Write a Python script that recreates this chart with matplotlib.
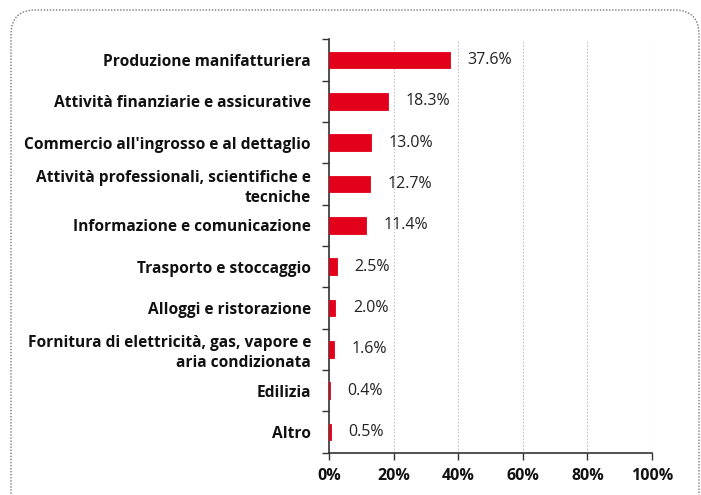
import matplotlib
matplotlib.use("Agg")
import matplotlib.pyplot as plt
from matplotlib.patches import FancyBboxPatch
from matplotlib.ticker import FixedLocator

categories = [
    "Produzione manifatturiera",
    "Attività finanziarie e assicurative",
    "Commercio all'ingrosso e al dettaglio",
    "Attività professionali, scientifiche e\ntecniche",
    "Informazione e comunicazione",
    "Trasporto e stoccaggio",
    "Alloggi e ristorazione",
    "Fornitura di elettricità, gas, vapore e\naria condizionata",
    "Edilizia",
    "Altro",
]
values = [37.6, 18.3, 13.0, 12.7, 11.4, 2.5, 2.0, 1.6, 0.4, 0.5]
xticks = [0, 20, 40, 60, 80, 100]
xticklabels = ["0%", "20%", "40%", "60%", "80%", "100%"]

plt.rcParams['font.family'] = ['Open Sans', 'DejaVu Sans']

W, H = 701, 495
fig = plt.figure(figsize=(W / 100, H / 100), dpi=100)
ax = fig.add_axes([329 / W, 1 - 452.5 / H, (652 - 329) / W, (452.5 - 39.5) / H])

n = len(categories)
ypos = list(range(n))
ax.barh(ypos, values, height=0.4, color="#E2001A", edgecolor="#E2001A",
        linewidth=0.6, zorder=3)
ax.set_ylim(n - 0.5, -0.5)
ax.set_xlim(0, 100)

for y, v in zip(ypos, values):
    ax.annotate(f"{v:.1f}%", (v, y), xytext=(12.5, 0), textcoords="offset points",
                ha="left", va="center", fontsize=11.5, color="#222222")

ax.set_yticks(ypos)
ax.set_yticklabels(categories, fontsize=11.2, fontweight="bold", color="#111111",
                   linespacing=1.35)
ax.tick_params(axis="y", length=0, pad=13)
ax.yaxis.set_minor_locator(FixedLocator([i + 0.5 for i in range(-1, n)]))
ax.tick_params(axis="y", which="minor", length=5, color="#333333", width=1)

ax.set_xticks(xticks)
ax.set_xticklabels(xticklabels, fontsize=11.5, fontweight="bold", color="#111111")
ax.tick_params(axis="x", length=5, color="#333333", width=1, pad=6)

ax.grid(axis="x", color="#C4C4C4", linestyle=(0, (1.5, 1.5)), linewidth=0.8, zorder=0)
for s in ["top", "right"]:
    ax.spines[s].set_visible(False)
for s in ["left", "bottom"]:
    ax.spines[s].set_color("#333333")
    ax.spines[s].set_linewidth(1.2)
ax.set_axisbelow(True)

# dotted rounded frame
frame = FancyBboxPatch((11 / W, -0.1), (699 - 11) / W, (1 - 10 / H) + 0.1,
                       boxstyle="round,pad=0,rounding_size=0.035",
                       transform=fig.transFigure, fill=False,
                       edgecolor="#777777", linestyle=(0, (1, 1.2)), linewidth=1.0,
                       mutation_aspect=W / H, clip_on=False)
fig.patches.append(frame)

fig.savefig("out.png", dpi=100)
